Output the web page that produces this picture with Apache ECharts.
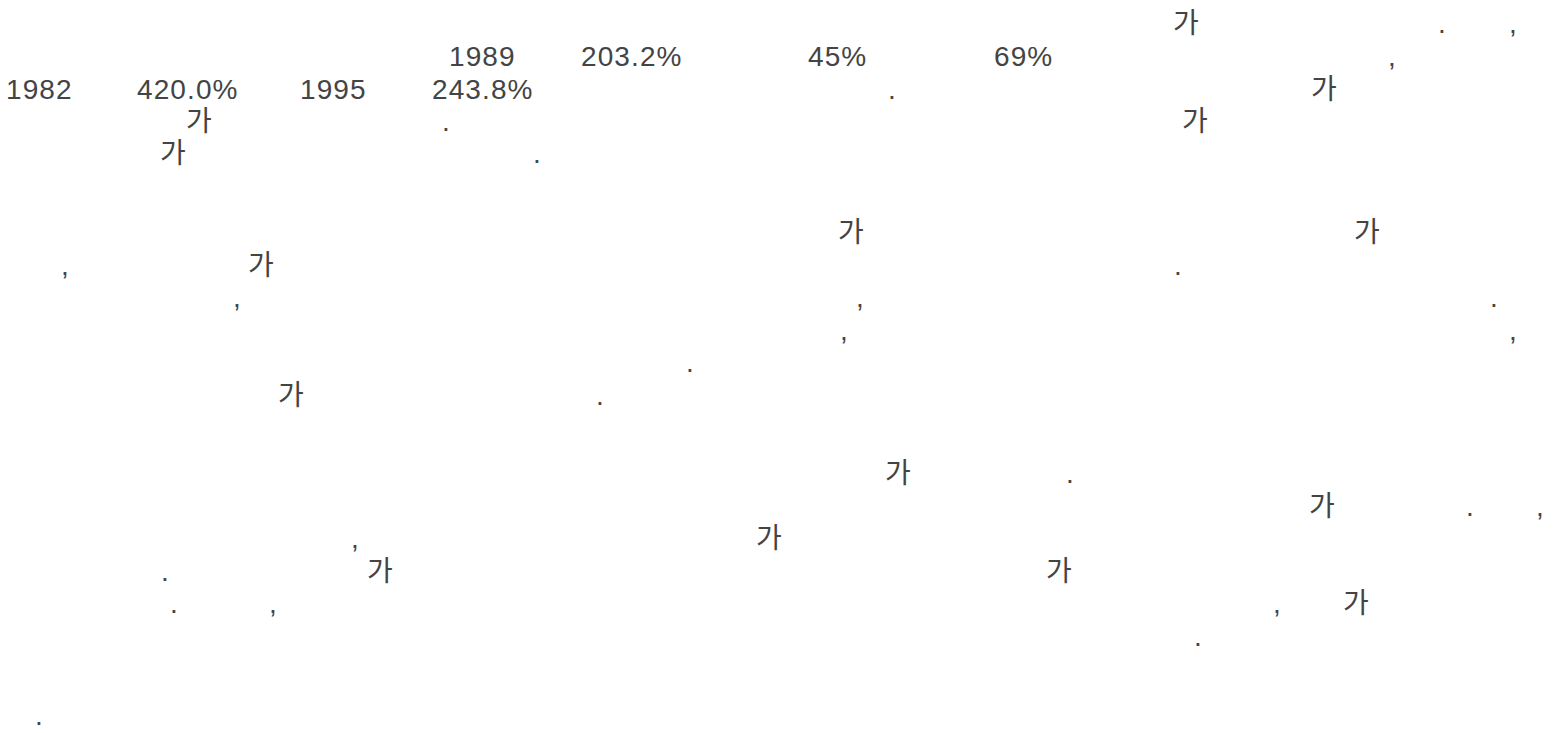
<!DOCTYPE html>
<html>
<head>
<meta charset="utf-8">
<script src="https://cdn.jsdelivr.net/npm/echarts@6/dist/echarts.min.js"></script>
<style>
  html, body { margin: 0; padding: 0; background: #ffffff; }
  #chart { width: 1558px; height: 733px; }
  #chart svg text { letter-spacing: 1.1px; }
</style>
</head>
<body>
<div id="chart"></div>
<script>
// ---- values ----
const years = ['1982', '1995', '1989'];
const growthRates = [420.0, 243.8, 203.2];   // %
const shares = [45, 69];                      // %
const syllable = '가';

const fmtRate = v => v.toFixed(1) + '%';
const fmtShare = v => v + '%';

// ---- layout (baselines of text lines, in px) ----
const p1 = [32, 65, 98, 130, 162];
const p2 = [241, 273.5, 306, 338.5, 371, 403.5];
const p3 = [482, 514.5, 547, 579.5, 612, 644.5];
const p4 = [723.5];

// [text, x, baseline]
const fragments = [
  // paragraph 1
  [syllable, 1173, p1[0]], ['.', 1438, p1[0]], [',', 1509, p1[0]],
  [years[2], 449, p1[1]], [fmtRate(growthRates[2]), 581, p1[1]],
  [fmtShare(shares[0]), 808, p1[1]], [fmtShare(shares[1]), 994, p1[1]], [',', 1388, p1[1]],
  [years[0], 6, p1[2]], [fmtRate(growthRates[0]), 137, p1[2]],
  [years[1], 300, p1[2]], [fmtRate(growthRates[1]), 432, p1[2]],
  ['.', 888, p1[2]], [syllable, 1311, p1[2]],
  [syllable, 186, p1[3]], ['.', 442, p1[3]], [syllable, 1182, p1[3]],
  [syllable, 160, p1[4]], ['.', 533, p1[4]],
  // paragraph 2
  [syllable, 838, p2[0]], [syllable, 1354, p2[0]],
  [',', 61, p2[1]], [syllable, 248, p2[1]], ['.', 1174, p2[1]],
  [',', 233, p2[2]], [',', 856, p2[2]], ['.', 1490, p2[2]],
  [',', 840, p2[3]], [',', 1509, p2[3]],
  ['.', 686, p2[4]],
  [syllable, 278, p2[5]], ['.', 596, p2[5]],
  // paragraph 3
  [syllable, 885, p3[0]], ['.', 1066, p3[0]],
  [syllable, 1309, p3[1]], ['.', 1466, p3[1]], [',', 1536, p3[1]],
  [',', 351, p3[2]], [syllable, 756, p3[2]],
  ['.', 161, p3[3]], [syllable, 367, p3[3]], [syllable, 1046, p3[3]],
  ['.', 170, p3[4]], [',', 269, p3[4]], [',', 1273, p3[4]], [syllable, 1343, p3[4]],
  ['.', 1194, p3[5]],
  // paragraph 4
  ['.', 35, p4[0]]
];

const FONT = '28px "Liberation Sans", "Noto Sans CJK KR", sans-serif';
const MID_OFFSET = 8.5; // baseline - vertical middle of the text box

const chart = echarts.init(document.getElementById('chart'), null, { renderer: 'svg' });
chart.setOption({
  backgroundColor: '#ffffff',
  animation: false,
  graphic: fragments.map(([t, x, b]) => ({
    type: 'text',
    x: x,
    y: b - MID_OFFSET,
    silent: true,
    style: {
      text: t,
      font: FONT,
      fill: '#444444',
      textAlign: 'left',
      textVerticalAlign: 'middle'
    }
  }))
});
</script>
</body>
</html>
